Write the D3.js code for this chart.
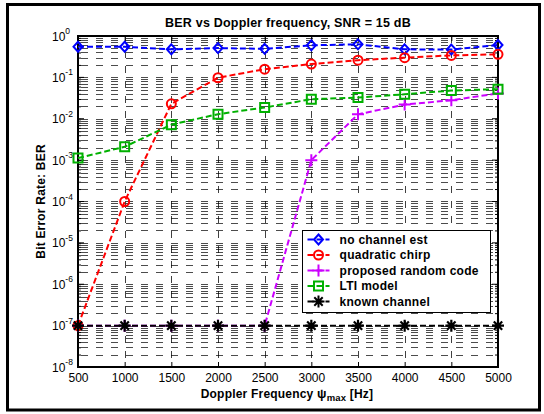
<!DOCTYPE html>
<html>
<head>
<meta charset="utf-8">
<script src="https://cdn.jsdelivr.net/npm/d3@7"></script>
<style>
  body { margin:0; background:#fff; }
  text { font-family: Arial, "Liberation Sans", Helvetica, sans-serif; }
</style>
</head>
<body>
<div id="canvas"></div>
<script>
// data
var freqs = [500,1000,1500,2000,2500,3000,3500,4000,4500,5000];
var noChannelEst = [0.55,0.55,0.476,0.51,0.49,0.595,0.63,0.476,0.47,0.605];
var quadChirp = [1e-7,1e-4,0.023,0.098,0.158,0.21,0.26,0.30,0.34,0.36];
var proposedCode = [1e-7,1e-7,1e-7,1e-7,1e-7,1e-3,0.0128,0.022,0.028,0.041];
var ltiModel = [0.00112,0.0021,0.0072,0.0129,0.0187,0.0297,0.0325,0.039,0.048,0.052];
var knownChannel = [1e-7,1e-7,1e-7,1e-7,1e-7,1e-7,1e-7,1e-7,1e-7,1e-7];
var seriesNames = ['no channel est','quadratic chirp','proposed random code','LTI model','known channel'];
var seriesColors = ['#0000ff','#ff0000','#cc00ff','#00b000','#000000'];
var seriesMarkers = ['diamond','circle','plus','square','star'];
var yExponents = [0,-1,-2,-3,-4,-5,-6,-7,-8];

var W = 544, H = 414;
var m = {t:36,r:46,b:47,l:78};
var w = W - m.l - m.r,
    h = H - m.t - m.b;

var svg = d3.select('#canvas')
    .append('svg')
    .attr('width',W)
    .attr('height',H);

// figure frame
svg.append('rect')
    .attr('x',7.5).attr('y',4.5)
    .attr('width',532).attr('height',405.5)
    .attr('fill','none')
    .attr('stroke','#000')
    .attr('stroke-width',3);

var plot = svg.append('g')
    .attr('transform','translate(' + m.l + ',' + m.t + ')');

var scaleX = d3.scaleLinear().domain([500,5000]).range([0,w]);
var scaleY = d3.scaleLog().domain([1e-8,1]).range([h,0]);

plot.append('clipPath').attr('id','clip')
    .append('rect').attr('width',w).attr('height',h);

//grid lines
var grid = plot.append('g').attr('clip-path','url(#clip)');
var minorVals = [];
for (var e = -8; e < 0; e++) {
    for (var k = 1; k < 10; k++) minorVals.push(k * Math.pow(10,e));
}
minorVals.push(1);

grid.selectAll('.hgrid')
    .data(minorVals)
    .enter().append('line')
    .attr('class','hgrid')
    .attr('x1',0).attr('x2',w)
    .attr('y1',function(d){ return Math.round(scaleY(d)) + 0.5; })
    .attr('y2',function(d){ return Math.round(scaleY(d)) + 0.5; })
    .attr('stroke','#000')
    .attr('stroke-width',1)
    .attr('stroke-opacity',0.7)
    .attr('stroke-dasharray','7,8')
    .attr('stroke-dashoffset',-3);

grid.selectAll('.vgrid')
    .data(freqs)
    .enter().append('line')
    .attr('class','vgrid')
    .attr('x1',function(d){ return Math.round(scaleX(d)) + 0.5; })
    .attr('x2',function(d){ return Math.round(scaleX(d)) + 0.5; })
    .attr('y1',0).attr('y2',h)
    .attr('stroke','#000')
    .attr('stroke-width',1)
    .attr('stroke-opacity',0.75)
    .attr('stroke-dasharray','7,8');

//axes with inward ticks
var axisB = d3.axisBottom(scaleX).tickValues(freqs).tickSize(-5).tickPadding(6).tickFormat(d3.format('d'));
var axisT = d3.axisTop(scaleX).tickValues(freqs).tickSize(-5).tickFormat('');
var axisL = d3.axisLeft(scaleY).tickValues(minorVals).tickSize(-3).tickFormat('');
var axisR = d3.axisRight(scaleY).tickValues(minorVals).tickSize(-3).tickFormat('');

plot.append('g').attr('class','axis').attr('transform','translate(0,' + h + ')').call(axisB);
plot.append('g').attr('class','axis').call(axisT);
plot.append('g').attr('class','axis').call(axisL);
plot.append('g').attr('class','axis').attr('transform','translate(' + w + ',0)').call(axisR);

plot.selectAll('.axis .domain').remove();
plot.selectAll('.axis line').attr('stroke','#000').attr('stroke-width',1);
plot.selectAll('.axis text')
    .attr('fill','#000')
    .style('font-size','12px')
    .style('font-family','Arial, "Liberation Sans", sans-serif');

// major y ticks longer
var majorVals = yExponents.map(function(e){ return Math.pow(10,e); });
plot.selectAll('.majL')
    .data(majorVals).enter().append('line')
    .attr('x1',0).attr('x2',6)
    .attr('y1',function(d){ return scaleY(d); })
    .attr('y2',function(d){ return scaleY(d); })
    .attr('stroke','#000');
plot.selectAll('.majR')
    .data(majorVals).enter().append('line')
    .attr('x1',w-6).attr('x2',w)
    .attr('y1',function(d){ return scaleY(d); })
    .attr('y2',function(d){ return scaleY(d); })
    .attr('stroke','#000');

// y tick labels 10^e
var ylab = plot.selectAll('.ylab')
    .data(yExponents).enter().append('text')
    .attr('class','ylab')
    .attr('x',-26)
    .attr('y',function(d){ return scaleY(Math.pow(10,d)) + 4.5; })
    .style('font-size','12px');
ylab.append('tspan').text('10');
ylab.append('tspan')
    .attr('dy',-6.5)
    .style('font-size','8.5px')
    .text(function(d){ return d; });

plot.append('rect')
    .attr('width',w).attr('height',h)
    .attr('fill','none')
    .attr('stroke','#000')
    .attr('stroke-width',2);

// marker shapes
function markerPath(type){
    var s = 4.5;
    if (type === 'diamond') return 'M0,' + (-s-0.5) + 'L' + s + ',0L0,' + (s+0.5) + 'L' + (-s) + ',0Z';
    if (type === 'circle') return 'M' + s + ',0A' + s + ',' + s + ' 0 1,1 ' + (-s) + ',0A' + s + ',' + s + ' 0 1,1 ' + s + ',0Z';
    if (type === 'square') return 'M' + (-s) + ',' + (-s) + 'H' + s + 'V' + s + 'H' + (-s) + 'Z';
    if (type === 'plus') return 'M-6,0H6M0,-6V6';
    var a = 4.2;
    return 'M-6,0H6M0,-6V6M' + (-a) + ',' + (-a) + 'L' + a + ',' + a + 'M' + (-a) + ',' + a + 'L' + a + ',' + (-a);
}

var allSeries = [noChannelEst,quadChirp,proposedCode,ltiModel,knownChannel];

var line = d3.line()
    .x(function(d,i){ return scaleX(freqs[i]); })
    .y(function(d){ return scaleY(d); });

allSeries.forEach(function(vals,si){
    var g = plot.append('g');
    g.append('path')
        .datum(vals)
        .attr('d',line)
        .attr('fill','none')
        .attr('stroke',seriesColors[si])
        .attr('stroke-width',2)
        .attr('stroke-dasharray','6,3');
    g.selectAll('.mk')
        .data(vals).enter().append('path')
        .attr('transform',function(d,i){ return 'translate(' + scaleX(freqs[i]) + ',' + scaleY(d) + ')'; })
        .attr('d',markerPath(seriesMarkers[si]))
        .attr('fill','none')
        .attr('stroke',seriesColors[si])
        .attr('stroke-width',seriesMarkers[si] === 'star' ? 2.2 : 2);
});

// legend
var lg = svg.append('g').attr('transform','translate(302.5,230.5)');
lg.append('rect')
    .attr('width',188).attr('height',82)
    .attr('fill','#fff')
    .attr('stroke','#000')
    .attr('stroke-width',1);
seriesNames.forEach(function(name,i){
    var y = 9 + i * 15.5;
    lg.append('line')
        .attr('x1',5).attr('x2',27)
        .attr('y1',y).attr('y2',y)
        .attr('stroke',seriesColors[i])
        .attr('stroke-width',2)
        .attr('stroke-dasharray','6,3');
    lg.append('path')
        .attr('transform','translate(16,' + y + ')')
        .attr('d',markerPath(seriesMarkers[i]))
        .attr('fill','none')
        .attr('stroke',seriesColors[i])
        .attr('stroke-width',2);
    lg.append('text')
        .attr('x',37).attr('y',y + 4)
        .style('font-size','12px')
        .style('font-weight','bold')
        .style('letter-spacing','0.3px')
        .text(name);
});

// titles
svg.append('text')
    .attr('x',288).attr('y',27)
    .attr('text-anchor','middle')
    .style('font-size','12.5px')
    .style('font-weight','bold')
    .style('letter-spacing','0.2px')
    .text('BER vs Doppler frequency, SNR = 15 dB');

var xt = svg.append('text')
    .attr('x',287).attr('y',398)
    .attr('text-anchor','middle')
    .style('font-size','12px')
    .style('font-weight','bold')
    .style('letter-spacing','0.2px');
xt.append('tspan').text('Doppler Frequency ');
xt.append('tspan').style('font-size','12.5px').text('\u03c8');
xt.append('tspan').attr('dy',3).style('font-size','9.5px').text('max');
xt.append('tspan').attr('dy',-3).text(' [Hz]');

svg.append('text')
    .attr('transform','translate(45,' + (m.t + h/2) + ') rotate(-90)')
    .attr('text-anchor','middle')
    .style('font-size','12px')
    .style('font-weight','bold')
    .style('letter-spacing','0.2px')
    .text('Bit Error Rate: BER');
</script>
</body>
</html>
